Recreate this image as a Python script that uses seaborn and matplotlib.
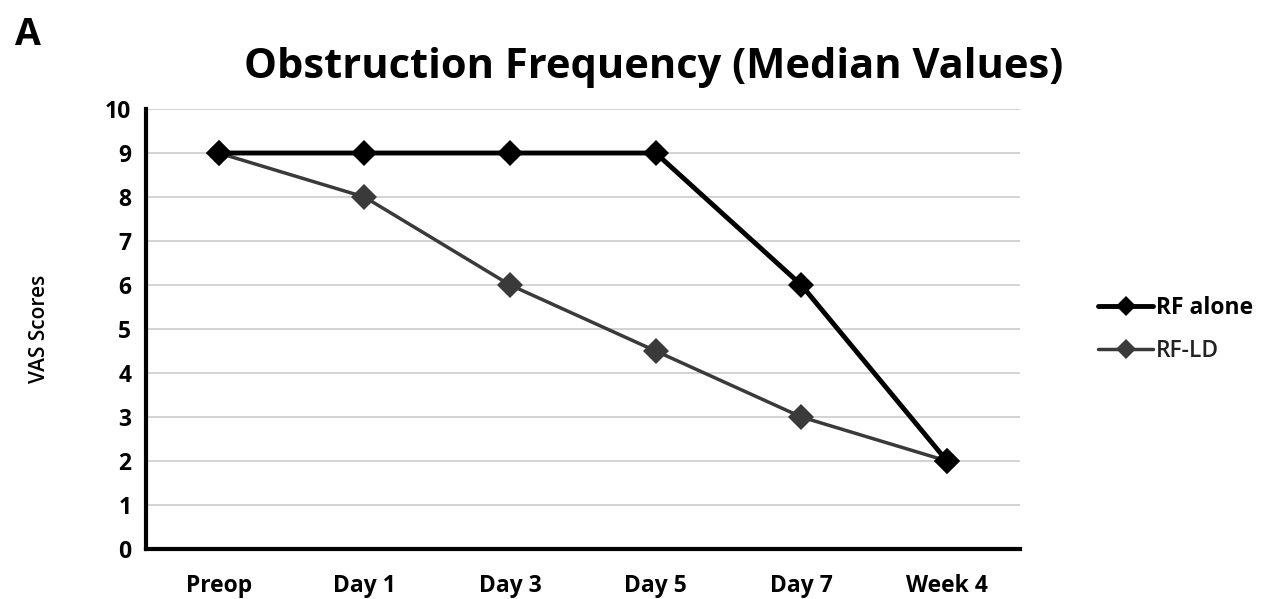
import numpy as np
import pandas as pd
import matplotlib
matplotlib.use('Agg')
import matplotlib.pyplot as plt
from matplotlib.lines import Line2D
import seaborn as sns

# Data
timepoints = ['Preop', 'Day 1', 'Day 3', 'Day 5', 'Day 7', 'Week 4']
rf_alone = [9, 9, 9, 9, 6, 2]
rf_ld = [9, 8, 6, 4.5, 3, 2]

df = pd.DataFrame({
    'Time': timepoints * 2,
    'Score': rf_alone + rf_ld,
    'Group': ['RF alone'] * len(timepoints) + ['RF-LD'] * len(timepoints),
})

sns.set_style('white')
plt.rcParams['font.family'] = ['Open Sans', 'DejaVu Sans']
plt.rcParams['text.color'] = 'black'
plt.rcParams['axes.labelcolor'] = 'black'
plt.rcParams['xtick.color'] = 'black'
plt.rcParams['ytick.color'] = 'black'

fig = plt.figure(figsize=(12.86, 5.99), dpi=100)
ax = fig.add_axes([0.1135, 0.0835, 0.6795, 0.7345])

palette = {'RF alone': '#000000', 'RF-LD': '#3a3a3a'}
sns.lineplot(data=df, x='Time', y='Score', hue='Group', style='Group',
             palette=palette, markers={'RF alone': 'D', 'RF-LD': 'D'},
             dashes=False, markersize=13.5, markeredgewidth=0,
             ax=ax, legend=False, sort=False)
lines = ax.get_lines()
lines[0].set_linewidth(3.5)
lines[1].set_linewidth(2.5)
lines[1].set_zorder(1)
lines[0].set_zorder(3)

ax.set_ylim(0, 10)
ax.set_yticks(range(0, 11))
ax.set_xlim(-0.5, len(timepoints) - 0.5)
ax.set_xticks(range(len(timepoints)))
ax.set_xticklabels(timepoints, fontsize=16.5, fontweight='bold')
ax.set_xticks(np.arange(-0.5, len(timepoints)), minor=True)
ax.tick_params(axis='x', which='major', length=0, pad=18)
ax.tick_params(axis='x', which='minor', length=7, width=2.5, direction='out')
ax.tick_params(axis='y', length=7, width=2.5, direction='out', labelsize=16.5)
for t in ax.get_yticklabels():
    t.set_fontweight('bold')

ax.yaxis.grid(True, color='#cccccc', linewidth=1.2)
ax.set_axisbelow(True)
sns.despine(ax=ax)
for s in ['left', 'bottom']:
    ax.spines[s].set_linewidth(3)
    ax.spines[s].set_color('black')

ax.set_xlabel('')
ax.set_ylabel('VAS Scores', fontsize=15, fontweight='semibold', labelpad=40)

fig.text(0.508, 0.888, 'Obstruction Frequency (Median Values)', fontsize=30,
         fontweight='bold', ha='center', va='center')
fig.text(0.012, 0.925, 'A', fontsize=27, fontweight='bold')

handles = [Line2D([], [], color='#000000', lw=3.5, marker='D', markersize=10, markeredgewidth=0),
           Line2D([], [], color='#3a3a3a', lw=2.5, marker='D', markersize=10, markeredgewidth=0)]
leg = fig.legend(handles, ['RF alone', 'RF-LD'], loc='center left',
                 bbox_to_anchor=(0.838, 0.45), frameon=False, fontsize=16.5,
                 handlelength=2.4, handletextpad=0.1, labelspacing=0.8)
leg.get_texts()[0].set_fontweight('bold')
leg.get_texts()[1].set_fontweight('semibold')
leg.get_texts()[1].set_color('#222222')

fig.savefig('out.png', dpi=100)
